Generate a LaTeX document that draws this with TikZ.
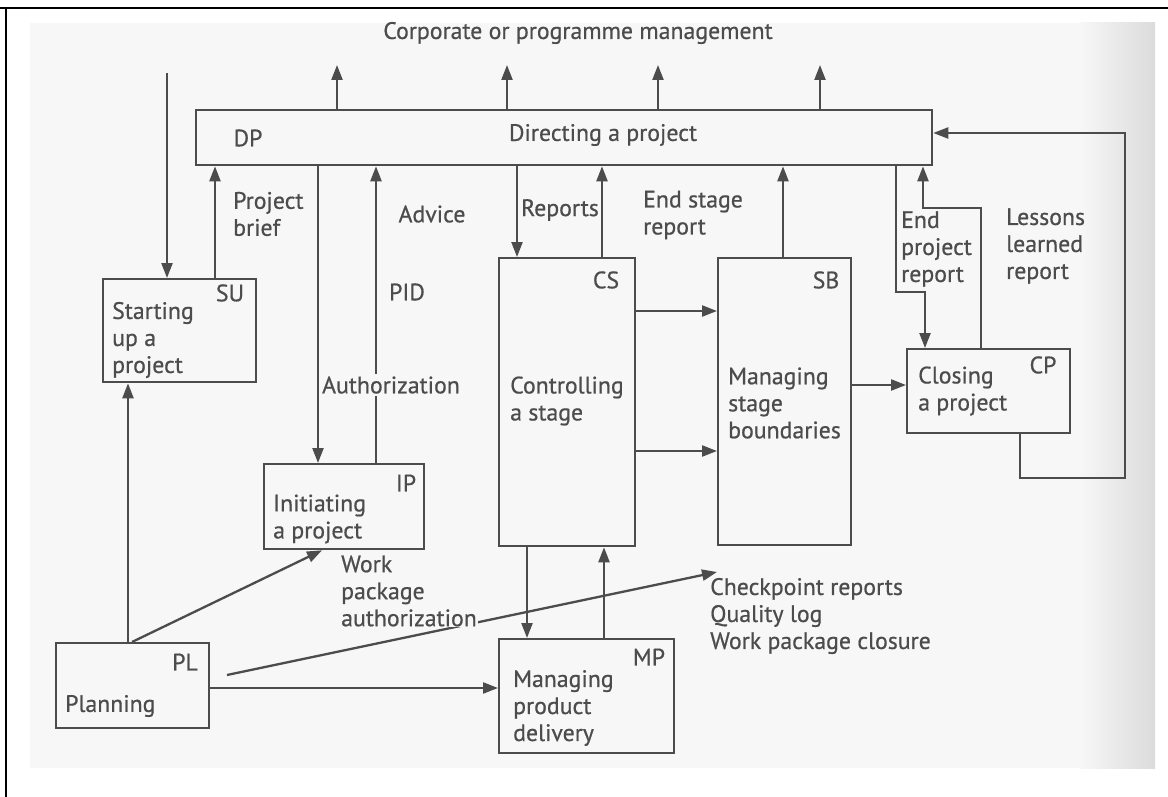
\documentclass[tikz,border=0pt]{standalone}
\usepackage{fontspec}
\setmainfont{PT Sans}[FakeBold=0.6]
\usetikzlibrary{arrows.meta}
\definecolor{ink}{HTML}{4C4C4C}
\definecolor{paper}{HTML}{F7F7F7}

\begin{document}
\begin{tikzpicture}[x=1pt,y=-1pt,
  font=\fontsize{23.8}{27}\selectfont, text=ink,
  box/.style={draw=ink, line width=2.3pt, inner sep=0pt, anchor=north west},
  lbl/.style={inner sep=0pt, align=left},
  tag/.style={inner sep=0pt},
  link/.style={draw=ink, line width=2.3pt},
  arr/.style={link, -{Triangle[length=15pt,width=11pt]}},
  cover/.style={fill=paper, inner sep=2pt}]

\useasboundingbox (0,0) rectangle (1168,797);

% page background and frame
\fill[white] (0,0) rectangle (1168,797);
\fill[paper] (30,23) rectangle (1155,768);
\shade[left color=paper, right color=black!14] (1080,23) rectangle (1155,768);
\draw[line width=2pt] (0,8) -- (1168,8);
\draw[line width=2pt] (6,8) -- (6,797);

% process boxes
\node[box, minimum width=736pt, minimum height=55pt]  (DP) at (195,109) {};
\node[box, minimum width=153pt, minimum height=103pt] (SU) at (102,278) {};
\node[box, minimum width=160pt, minimum height=85pt]  (IP) at (263,463) {};
\node[box, minimum width=136pt, minimum height=288pt] (CS) at (498,257) {};
\node[box, minimum width=133pt, minimum height=287pt] (SB) at (717,257) {};
\node[box, minimum width=163pt, minimum height=84pt]  (CP) at (906,348) {};
\node[box, minimum width=153pt, minimum height=85pt]  (PL) at (55,642) {};
\node[box, minimum width=175pt, minimum height=114pt] (MP) at (498,638) {};

% free ends
\coordinate (corpline) at (0,65);
\coordinate (feedin) at (167,73);
\coordinate (plout) at (227,675);
\coordinate (cpin) at (717,572);

% reporting upwards to corporate management
\foreach \x in {337,507,658,820}
  \draw[arr] (\x,0 |- DP.north) -- (\x,0 |- corpline);

% links with directing a project
\draw[arr] (feedin) -- (feedin |- SU.north);
\draw[arr] (215,0 |- SU.north) -- (215,0 |- DP.south);
\draw[arr] (318,0 |- DP.south) -- (318,0 |- IP.north);
\draw[arr] (376,0 |- IP.north) -- (376,0 |- DP.south);
\draw[arr] (517,0 |- DP.south) -- (517,0 |- CS.north);
\draw[arr] (602,0 |- CS.north) -- (602,0 |- DP.south);
\draw[arr] (783,0 |- SB.north) -- (783,0 |- DP.south);
\draw[arr] (896,0 |- DP.south) -- (896,292) -- (925,292) -- (925,0 |- CP.north);
\draw[arr] (981,0 |- CP.north) -- (981,208) -- (923,208) -- (923,0 |- DP.south);
\draw[arr] (1020,0 |- CP.south) -- (1020,478) -- (1125,478) -- (1125,133) -- (DP.east |- 0,133);

% stage flow
\draw[arr] (CS.east |- 0,311) -- (SB.west |- 0,311);
\draw[arr] (CS.east |- 0,451) -- (SB.west |- 0,451);
\draw[arr] (SB.east |- 0,385) -- (CP.west |- 0,385);

% planning and product delivery
\draw[arr] (128,0 |- PL.north) -- (128,0 |- SU.south);
\draw[arr] (132,0 |- PL.north) -- (322,0 |- IP.south);
\draw[arr] (plout) -- (cpin);
\draw[arr] (PL.east |- 0,688) -- (MP.west |- 0,688);
\draw[arr] (527,0 |- CS.south) -- (527,0 |- MP.north);
\draw[arr] (604,0 |- MP.north) -- (604,0 |- CS.south);

% box texts
\node[tag] (DPtag) at (248,138) {DP};
\node[lbl] (DPtxt) at (603,135) {Directing a project};
\node[tag] (SUtag) at (230,293) {SU};
\node[lbl, anchor=west] (SUtxt) at (112,340) {Starting\\up a\\project};
\node[tag] (IPtag) at (406,483) {IP};
\node[lbl, anchor=west] (IPtxt) at (273,519) {Initiating\\a project};
\node[tag] (CStag) at (606,280) {CS};
\node[lbl, anchor=west] (CStxt) at (510,401) {Controlling\\a stage};
\node[tag] (SBtag) at (826,280) {SB};
\node[lbl, anchor=west] (SBtxt) at (728,403) {Managing\\stage\\boundaries};
\node[tag] (CPtag) at (1043,365) {CP};
\node[lbl, anchor=west] (CPtxt) at (918,391) {Closing\\a project};
\node[tag] (PLtag) at (185,662) {PL};
\node[lbl, anchor=west] (PLtxt) at (65,706) {Planning};
\node[tag] (MPtag) at (649,657) {MP};
\node[lbl, anchor=west] (MPtxt) at (513,708) {Managing\\product\\delivery};

% flow labels
\node[lbl] (corp) at (578,33) {Corporate or programme management};
\node[lbl, anchor=west] (brief) at (233,214) {Project\\brief};
\node[lbl] (advice) at (432,214) {Advice};
\node[lbl] (reports) at (560,210) {Reports};
\node[lbl, anchor=west] (esr) at (643,215) {End stage\\report};
\node[lbl, anchor=west] (epr) at (901,249) {End\\project\\report};
\node[lbl, anchor=west] (llr) at (1006,246) {Lessons\\learned\\report};
\node[lbl] (pid) at (407,292) {PID};
\node[lbl, cover] (auth) at (391,385) {Authorization};
\node[lbl, anchor=west, fill=paper, inner sep=1pt] (wpa) at (340,591) {Work\\package\\authorization};
\node[lbl, anchor=west] (chk) at (710,616) {Checkpoint reports\\Quality log\\Work package closure};

\end{tikzpicture}
\end{document}
